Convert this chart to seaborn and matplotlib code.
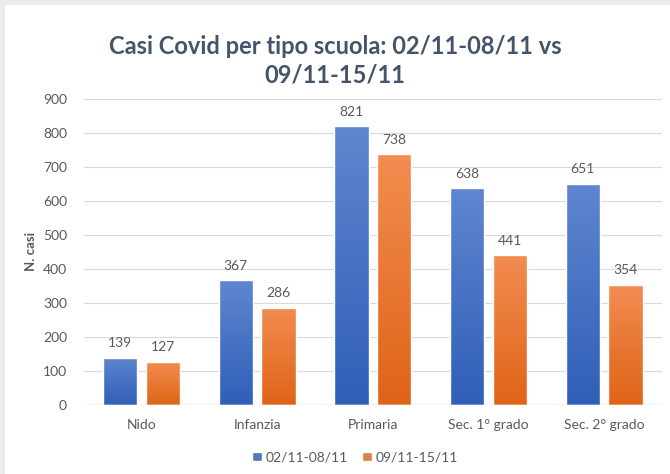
import numpy as np
import pandas as pd
import seaborn as sns
import matplotlib.pyplot as plt
from matplotlib.colors import LinearSegmentedColormap

categories = ["Nido", "Infanzia", "Primaria", "Sec. 1° grado", "Sec. 2° grado"]
week1 = [139, 367, 821, 638, 651]
week2 = [127, 286, 738, 441, 354]
series = ["02/11-08/11", "09/11-15/11"]

df = pd.DataFrame({
    "scuola": categories * 2,
    "casi": week1 + week2,
    "periodo": [series[0]] * 5 + [series[1]] * 5,
})

sns.set_theme(style="white")
plt.rcParams["font.family"] = ["Lato", "DejaVu Sans"]

text_col = "#595959"
fig = plt.figure(figsize=(6.7, 4.74), dpi=100)
fig.patch.set_facecolor("#e9ebee")
ax = fig.add_axes([0.125, 0.146, 0.863, 0.645])
bg = plt.Rectangle((0.008, 0.0), 0.992, 0.99, transform=fig.transFigure,
                   facecolor="white", edgecolor="none", zorder=-10)
fig.patches.append(bg)

palette = {series[0]: "#4472c4", series[1]: "#ed7d31"}
sns.barplot(data=df, x="scuola", y="casi", hue="periodo", palette=palette,
            width=0.74, gap=0.2, ax=ax, legend=True, zorder=3)

# gradient fill on bars
grads = {
    series[0]: LinearSegmentedColormap.from_list("b", ["#2f5fb8", "#5f86cf"]),
    series[1]: LinearSegmentedColormap.from_list("o", ["#df6418", "#f28c50"]),
}
for container, name in zip(ax.containers, series):
    for bar in container:
        x0, y0 = bar.get_x(), bar.get_y()
        w, h = bar.get_width(), bar.get_height()
        bar.set_facecolor("none")
        im = ax.imshow(np.linspace(0, 1, 100).reshape(-1, 1), cmap=grads[name],
                       extent=[x0, x0 + w, y0, y0 + h], origin="lower",
                       aspect="auto", zorder=2.5)
        im.set_clip_path(bar)
    ax.bar_label(container, padding=6, fontsize=10, color=text_col)

ax.set_xlim(-0.5, 4.5)
ax.set_ylim(0, 900)
ax.set_yticks(range(0, 901, 100))
ax.yaxis.grid(True, color="#d9d9d9", linewidth=0.8, zorder=0)
for s in ax.spines.values():
    s.set_visible(False)
ax.axhline(0, color="#d9d9d9", linewidth=1, zorder=4)
ax.tick_params(axis="both", length=0, labelsize=10, labelcolor=text_col)
ax.tick_params(axis="x", pad=10)
ax.tick_params(axis="y", pad=12)
ax.set_xlabel("")
ax.set_ylabel("N. casi", fontsize=9.5, color=text_col, fontweight="bold", labelpad=4)

fig.suptitle("Casi Covid per tipo scuola: 02/11-08/11 vs\n09/11-15/11",
             x=0.5, y=0.927, fontsize=17, fontweight="bold", color="#44546a",
             linespacing=1.3)

handles, labels = ax.get_legend_handles_labels()
ax.legend_.remove()
fig.legend(handles, labels, loc="center", bbox_to_anchor=(0.53, 0.035), ncol=2,
           frameon=False, fontsize=10, labelcolor=text_col, handlelength=0.7,
           handleheight=0.7, handletextpad=0.3, columnspacing=1.0)

fig.savefig("out.png", dpi=100)
